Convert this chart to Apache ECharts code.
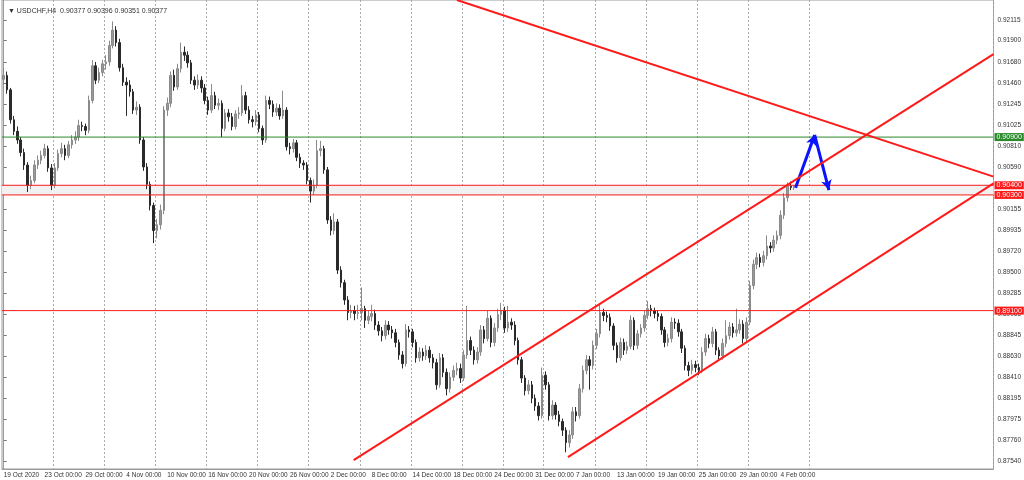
<!DOCTYPE html>
<html>
<head>
<meta charset="utf-8">
<script src="https://cdn.jsdelivr.net/npm/echarts@6/dist/echarts.min.js"></script>
<style>
  html, body { margin: 0; padding: 0; background: #fff; }
  #chart { width: 1024px; height: 480px; }
</style>
</head>
<body>
<div id="chart"></div>
<script>
// USDCHF H4 (drawn as 8h bars), prices in pips (x 10000)
const dateLabels = ['19 Oct 2020', '23 Oct 00:00', '29 Oct 00:00', '4 Nov 00:00', '10 Nov 00:00',
  '16 Nov 00:00', '20 Nov 00:00', '26 Nov 00:00', '2 Dec 00:00', '8 Dec 00:00', '14 Dec 00:00',
  '18 Dec 00:00', '24 Dec 00:00', '31 Dec 00:00', '7 Jan 00:00', '13 Jan 00:00', '19 Jan 00:00',
  '25 Jan 00:00', '29 Jan 00:00', '4 Feb 00:00']
const barsPerLabel = 12
const slotCount = 291
const gridSlots = [15, 30, 45, 60, 75, 90, 105, 120, 135, 147, 159, 174, 189, 204, 219, 237]
const yTicks = [0.92115, 0.91900, 0.91680, 0.91460, 0.91245, 0.91025, 0.90810, 0.90590, 0.90375,
  0.90155, 0.89935, 0.89720, 0.89500, 0.89285, 0.89065, 0.88845, 0.88630, 0.88410, 0.88195,
  0.87975, 0.87760, 0.87540]

// [open, close, low, high]
const ohlc = [
  [9150,9154,9144,9162],[9154,9139,9135,9158],[9139,9108,9104,9141],[9108,9096,9092,9112],[9096,9087,9083,9101],[9087,9074,9070,9090],
  [9074,9061,9056,9078],[9061,9040,9033,9064],[9040,9045,9036,9050],[9045,9061,9042,9066],[9061,9066,9057,9071],[9066,9071,9062,9076],
  [9071,9078,9068,9083],[9078,9058,9054,9081],[9058,9040,9035,9062],[9040,9058,9037,9063],[9058,9073,9055,9077],[9073,9078,9069,9084],
  [9078,9071,9066,9082],[9071,9082,9068,9086],[9082,9087,9078,9092],[9087,9090,9083,9096],[9090,9102,9086,9108],[9102,9101,9096,9106],
  [9101,9097,9092,9104],[9097,9128,9094,9133],[9128,9164,9125,9170],[9164,9149,9145,9168],[9149,9157,9146,9162],[9157,9166,9153,9170],
  [9166,9168,9160,9175],[9168,9185,9164,9190],[9185,9201,9182,9210],[9201,9188,9184,9205],[9188,9162,9158,9192],[9162,9147,9143,9166],
  [9147,9144,9112,9152],[9144,9137,9132,9149],[9137,9118,9114,9140],[9118,9121,9113,9127],[9121,9087,9083,9124],[9087,9059,9055,9090],
  [9059,9041,9036,9063],[9041,9019,9014,9044],[9019,8993,8980,9022],[8993,8999,8985,9005],[8999,9014,8994,9020],[9014,9118,9010,9122],
  [9118,9125,9112,9131],[9125,9154,9121,9158],[9154,9142,9138,9160],[9142,9161,9139,9166],[9161,9178,9157,9188],[9178,9175,9169,9184],
  [9175,9167,9162,9179],[9167,9149,9145,9170],[9149,9144,9139,9153],[9144,9149,9140,9155],[9149,9141,9136,9153],[9141,9128,9124,9145],
  [9128,9118,9113,9132],[9118,9133,9115,9145],[9133,9123,9119,9137],[9123,9125,9118,9130],[9125,9099,9090,9128],[9099,9115,9096,9119],
  [9115,9111,9106,9119],[9111,9101,9097,9115],[9101,9114,9098,9118],[9114,9115,9109,9121],[9115,9133,9112,9144],[9133,9118,9114,9137],
  [9118,9108,9104,9122],[9108,9106,9100,9112],[9106,9113,9102,9118],[9113,9099,9095,9116],[9099,9087,9082,9102],[9087,9128,9084,9133],
  [9128,9124,9119,9132],[9124,9116,9111,9128],[9116,9120,9112,9125],[9120,9112,9108,9124],[9112,9118,9109,9138],[9118,9080,9076,9121],
  [9080,9078,9072,9084],[9078,9084,9074,9088],[9084,9069,9065,9087],[9069,9063,9058,9073],[9063,9061,9056,9066],[9061,9045,9041,9064],
  [9045,9034,9022,9048],[9034,9040,9030,9046],[9040,9076,9037,9087],[9076,9078,9070,9086],[9078,9056,9052,9081],[9056,9004,9000,9059],
  [9004,8993,8988,9008],[8993,9002,8989,9011],[9002,8952,8948,9005],[8952,8939,8934,8956],[8939,8921,8916,8942],[8921,8908,8900,8925],
  [8908,8910,8902,8916],[8910,8907,8900,8915],[8907,8908,8901,8916],[8908,8912,8900,8934],[8912,8900,8892,8915],[8900,8904,8896,8910],
  [8904,8907,8899,8916],[8907,8895,8890,8911],[8895,8889,8884,8899],[8889,8884,8878,8893],[8884,8895,8880,8900],[8895,8890,8885,8899],
  [8890,8887,8881,8894],[8887,8877,8872,8891],[8877,8864,8859,8880],[8864,8855,8850,8868],[8855,8890,8852,8896],[8890,8888,8882,8894],
  [8888,8877,8872,8891],[8877,8861,8856,8880],[8861,8867,8857,8872],[8867,8863,8858,8871],[8863,8869,8859,8874],[8869,8861,8856,8873],
  [8861,8856,8850,8865],[8856,8833,8828,8860],[8833,8861,8830,8866],[8861,8846,8841,8865],[8846,8829,8822,8850],[8829,8841,8825,8846],
  [8841,8848,8837,8853],[8848,8850,8843,8856],[8850,8840,8835,8855],[8840,8864,8837,8869],[8864,8879,8860,8915],[8879,8869,8864,8883],
  [8869,8859,8854,8873],[8859,8867,8855,8872],[8867,8890,8863,8895],[8890,8881,8876,8894],[8881,8902,8878,8910],[8902,8877,8872,8905],
  [8877,8892,8873,8897],[8892,8906,8888,8912],[8906,8910,8900,8918],[8910,8892,8887,8914],[8892,8898,8888,8915],[8898,8895,8890,8902],
  [8895,8879,8874,8899],[8879,8859,8854,8882],[8859,8840,8835,8862],[8840,8827,8822,8843],[8827,8833,8823,8838],[8833,8819,8814,8837],
  [8819,8811,8806,8823],[8811,8801,8796,8815],[8801,8843,8798,8851],[8843,8833,8828,8847],[8833,8801,8796,8836],[8801,8812,8797,8817],
  [8812,8802,8797,8815],[8802,8795,8790,8806],[8795,8786,8780,8798],[8786,8773,8763,8789],[8773,8781,8768,8786],[8781,8805,8777,8810],
  [8805,8801,8795,8810],[8801,8829,8798,8834],[8829,8848,8825,8853],[8848,8859,8844,8864],[8859,8853,8828,8863],[8853,8874,8849,8879],
  [8874,8886,8870,8891],[8886,8908,8882,8916],[8908,8905,8899,8912],[8905,8903,8898,8909],[8903,8894,8889,8907],[8894,8874,8869,8897],
  [8874,8861,8856,8877],[8861,8877,8858,8882],[8877,8869,8864,8881],[8869,8873,8865,8878],[8873,8900,8870,8905],[8900,8874,8869,8903],
  [8874,8886,8870,8890],[8886,8892,8882,8896],[8892,8905,8888,8910],[8905,8912,8901,8920],[8912,8910,8904,8916],[8910,8907,8902,8913],
  [8907,8904,8899,8910],[8904,8890,8885,8907],[8890,8877,8872,8893],[8877,8881,8873,8886],[8881,8898,8877,8903],[8898,8897,8891,8902],
  [8897,8888,8883,8901],[8888,8871,8866,8891],[8871,8853,8848,8874],[8853,8848,8842,8857],[8848,8854,8844,8859],[8854,8851,8846,8858],
  [8851,8848,8843,8855],[8848,8867,8845,8872],[8867,8881,8863,8886],[8881,8876,8871,8885],[8876,8888,8872,8893],[8888,8869,8864,8891],
  [8869,8863,8858,8872],[8863,8876,8859,8881],[8876,8884,8872,8900],[8884,8893,8880,8898],[8893,8887,8882,8897],[8887,8890,8883,8912],
  [8890,8896,8886,8901],[8896,8881,8876,8900],[8881,8898,8877,8903],[8898,8936,8895,8941],[8936,8958,8932,8963],[8958,8965,8953,8970],
  [8965,8960,8955,8969],[8960,8967,8956,8972],[8967,8977,8963,8988],[8977,8975,8970,8981],[8975,8983,8971,8988],[8983,8988,8979,8993],
  [8988,9009,8984,9014],[9009,9027,9005,9032],[9027,9039,9023,9043],[9039,9037.7,9035,9044],[9037.7,9037.7,9035.1,9039.6]
]

const greenLevels = [0.90900]
const redLevels = [0.90400, 0.90300, 0.89100]
const band = [0.90300, 0.90400]
// trend lines: [slot, price] endpoints
const trendLines = [
  [[133, 0.92322], [290.5, 0.90490]],
  [[102.7, 0.87550], [290.5, 0.91760]],
  [[165.6, 0.87581], [290.5, 0.90420]]
]
const arrowPath = [[232.4, 0.90375], [238.0, 0.90922], [242.2, 0.90351]]

const chart = echarts.init(document.getElementById('chart'))
const font = 'Liberation Sans'
const xEnds = [-0.5, slotCount - 0.5]

function levelSeries(values, color) {
  const out = []
  values.forEach(v => {
    // the level line itself, across the whole plot
    out.push({
      type: 'line',
      xAxisIndex: 1,
      data: xEnds.map(x => [x, v]),
      symbol: 'none',
      silent: true,
      lineStyle: { color: color, width: 1 },
      z: 4
    })
  })
  // price tags on the right axis
  out.push({
    type: 'line',
    xAxisIndex: 1,
    data: [],
    markLine: {
      silent: true,
      symbol: 'none',
      precision: 5,
      animation: false,
      lineStyle: { color: 'rgba(255,255,255,0)', width: 1, type: 'solid' },
      label: {
        show: true, position: 'end', distance: 1, opacity: 1,
        formatter: p => p.value.toFixed(5),
        color: '#fff', backgroundColor: color,
        fontSize: 7, fontFamily: font, padding: [1, 2, 0, 2]
      },
      data: values.map(v => ({ yAxis: v }))
    },
    z: 7
  })
  return out
}

const series = [
  {
    // light band between the two close red levels
    type: 'line',
    xAxisIndex: 1,
    data: [],
    markArea: {
      silent: true,
      itemStyle: { color: '#f1f1f1' },
      data: [[{ yAxis: band[0] }, { yAxis: band[1] }]]
    },
    z: 1
  },
  {
    type: 'candlestick',
    data: ohlc.map(r => r.map(v => v / 10000)),
    barWidth: 2,
    itemStyle: {
      color: '#9a9a9a', borderColor: '#8a8a8a',
      color0: '#2a2a2a', borderColor0: '#2a2a2a',
      borderWidth: 1
    },
    z: 3
  }
].concat(levelSeries(greenLevels, '#2a8a2a'), levelSeries(redLevels, '#ff1a1a'))

trendLines.forEach(seg => {
  series.push({
    type: 'line',
    xAxisIndex: 1,
    data: seg,
    symbol: 'none',
    lineStyle: { color: '#ff1a1a', width: 2 },
    silent: true,
    z: 5
  })
})

series.push({
  type: 'line',
  xAxisIndex: 1,
  data: [],
  markLine: {
    silent: true,
    symbol: ['none', 'arrow'],
    symbolSize: [8, 10],
    precision: 5,
    animation: false,
    lineStyle: { color: '#0a12ff', width: 3, type: 'solid' },
    label: { show: false },
    data: [
      [{ coord: arrowPath[0] }, { coord: arrowPath[1] }],
      [{ coord: arrowPath[1] }, { coord: arrowPath[2] }]
    ]
  },
  z: 6
})

chart.setOption({
  animation: false,
  backgroundColor: '#fff',
  title: {
    text: '\u25BC USDCHF,H4  0.90377 0.90396 0.90351 0.90377',
    left: 3, top: 3,
    textStyle: { fontSize: 7, fontWeight: 'normal', color: '#333', fontFamily: font }
  },
  grid: {
    left: 2, right: 27, top: 0, bottom: 11,
    show: true, borderColor: '#9a9a9a', borderWidth: 1
  },
  xAxis: [
    {
      type: 'category',
      data: Array.from({ length: slotCount }, (_, i) => String(i)),
      boundaryGap: true,
      axisLine: { lineStyle: { color: '#9a9a9a' } },
      axisTick: {
        length: 3,
        interval: i => i % barsPerLabel === 0 && i / barsPerLabel < dateLabels.length,
        lineStyle: { color: '#777' }
      },
      axisLabel: {
        interval: i => i % barsPerLabel === 0 && i / barsPerLabel < dateLabels.length,
        formatter: (v, i) => dateLabels[i / barsPerLabel] || '',
        align: 'left', margin: 3,
        fontSize: 6.5, color: '#333', fontFamily: font
      },
      splitLine: {
        show: true,
        interval: i => gridSlots.indexOf(i) >= 0,
        lineStyle: { color: '#aaa', type: [2, 2], width: 1 }
      }
    },
    {
      type: 'value',
      min: -0.5, max: slotCount - 0.5,
      show: false
    }
  ],
  yAxis: {
    type: 'value',
    position: 'right',
    min: 0.87457, max: 0.92322,
    scale: true,
    axisLine: { show: true, lineStyle: { color: '#9a9a9a' } },
    axisTick: { show: true, length: 3, customValues: yTicks, lineStyle: { color: '#777' } },
    axisLabel: {
      customValues: yTicks,
      formatter: v => v.toFixed(5),
      margin: 4,
      fontSize: 6.5, color: '#333', fontFamily: font
    },
    splitLine: { show: false }
  },
  series: series
})
</script>
</body>
</html>
